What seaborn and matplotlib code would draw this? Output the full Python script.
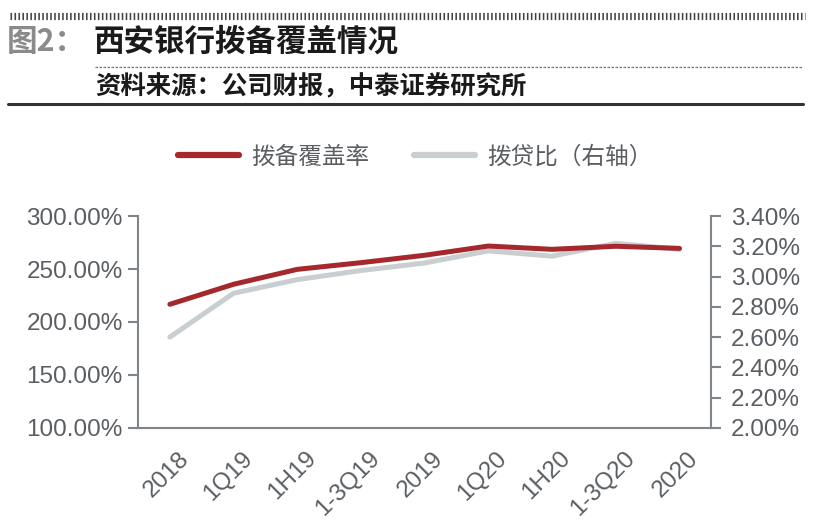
import matplotlib
matplotlib.use("Agg")
import numpy as np
import pandas as pd
import seaborn as sns
import matplotlib.pyplot as plt
from matplotlib.lines import Line2D
from matplotlib.ticker import FuncFormatter, FixedLocator

# data
periods = ["2018", "1Q19", "1H19", "1-3Q19", "2019", "1Q20", "1H20", "1-3Q20", "2020"]
coverage = [216.7, 235.6, 249.7, 256.0, 263.0, 271.7, 268.6, 271.5, 269.5]   # 拨备覆盖率 (%)
loan_ratio = [2.60, 2.89, 2.98, 3.04, 3.09, 3.17, 3.135, 3.22, 3.18]        # 拨贷比 (%)

sns.set_theme(style="white")
plt.rcParams['font.family'] = ['Liberation Sans', 'Noto Sans CJK SC', 'DejaVu Sans']

RED = "#A5282D"
GREY_LINE = "#C9CED1"
AXIS = "#80858A"
TXT = "#5A5E62"

df = pd.DataFrame({"period": periods, "x": np.arange(len(periods)),
                   "coverage": coverage, "loan_ratio": loan_ratio})

fig = plt.figure(figsize=(8.19, 5.27), dpi=100)
ax = fig.add_axes([0.1685, 0.188, 0.700, 0.402])
ax2 = ax.twinx()

sns.lineplot(data=df, x="x", y="coverage", ax=ax, color=RED, linewidth=3.6,
             solid_capstyle="round", legend=False)
sns.lineplot(data=df, x="x", y="loan_ratio", ax=ax2, color=GREY_LINE, linewidth=3.6,
             solid_capstyle="round", legend=False)
ax.set_zorder(ax2.get_zorder() + 1)
ax.patch.set_visible(False)

ax.set_xlim(-0.5, len(periods) - 0.5)
ax.set_ylim(100, 300)
ax2.set_ylim(2.0, 3.4)
ax.set_yticks([100, 150, 200, 250, 300])
ax2.set_yticks(np.arange(2.0, 3.41, 0.2))
ax.yaxis.set_major_formatter(FuncFormatter(lambda v, p: f"{v:.2f}%"))
ax2.yaxis.set_major_formatter(FuncFormatter(lambda v, p: f"{v:.2f}%"))

# x ticks at category boundaries, labels at centres
ax.xaxis.set_major_locator(FixedLocator(np.arange(len(periods) + 1) - 0.5))
ax.xaxis.set_major_formatter(FuncFormatter(lambda v, p: ""))
ax.xaxis.set_minor_locator(FixedLocator(np.arange(len(periods)) + 0.12))
ax.set_xticklabels(periods, minor=True, rotation=45, ha="right", rotation_mode="anchor")
ax.tick_params(axis="x", which="minor", length=0, pad=14, labelsize=17.5, labelcolor=TXT)
ax.tick_params(axis="x", which="major", length=7, width=1.5, color=AXIS, direction="out")
ax.tick_params(axis="y", length=7, width=1.5, color=AXIS, labelsize=17.5, labelcolor=TXT, pad=4)
ax2.tick_params(axis="y", length=7, width=1.5, color=AXIS, labelsize=17.5, labelcolor=TXT, pad=7)
ax.set_xlabel("")
ax.set_ylabel("")
ax2.set_ylabel("")

for a in (ax, ax2):
    for s in a.spines.values():
        s.set_visible(False)
ax.spines["left"].set_visible(True)
ax.spines["bottom"].set_visible(True)
ax2.spines["right"].set_visible(True)
for s in (ax.spines["left"], ax.spines["bottom"], ax2.spines["right"]):
    s.set_color(AXIS)
    s.set_linewidth(1.5)

# legend
handles = [Line2D([], [], color=RED, linewidth=4.5, solid_capstyle="round"),
           Line2D([], [], color=GREY_LINE, linewidth=4.5, solid_capstyle="round")]
fig.legend(handles, ["拨备覆盖率", "拨贷比（右轴）"], loc="center", bbox_to_anchor=(0.507, 0.702),
           ncol=2, frameon=False, handlelength=2.6, columnspacing=1.9, handletextpad=0.5,
           prop={"family": ["Noto Sans CJK SC"], "size": 17, "weight": "light"},
           labelcolor=TXT)

# header decorations
fig.add_artist(Line2D([0.012, 0.983], [0.970, 0.970], transform=fig.transFigure,
                      color="#444444", linewidth=5.2, dashes=(0.22, 0.33)))
fig.add_artist(Line2D([0.116, 0.980], [0.873, 0.873], transform=fig.transFigure,
                      color="#777777", linewidth=0.9, dashes=(2.0, 1.2)))
fig.add_artist(Line2D([0.010, 0.980], [0.803, 0.803], transform=fig.transFigure,
                      color="#333333", linewidth=2.2))

fig.text(0.008, 0.921, "图2：", fontsize=22, fontweight="bold", color="#8A8A8A",
         family=["Noto Sans CJK SC"], va="center")
fig.text(0.114, 0.921, "西安银行拨备覆盖情况", fontsize=22, fontweight="bold", color="#1A1A1A",
         family=["Noto Sans CJK SC"], va="center")
fig.text(0.116, 0.836, "资料来源：公司财报，中泰证券研究所", fontsize=18.3, fontweight="bold",
         color="#1A1A1A", family=["Noto Sans CJK SC"], va="center")

fig.savefig("out.png", dpi=100)
